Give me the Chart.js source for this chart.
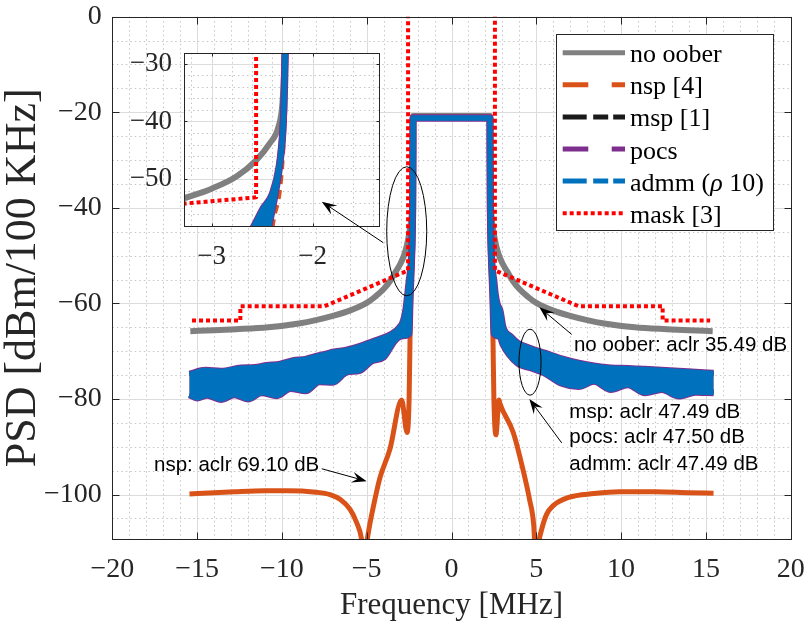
<!DOCTYPE html>
<html><head><meta charset="utf-8">
<script src="https://cdn.jsdelivr.net/npm/chart.js@4.4.1/dist/chart.umd.min.js"></script>
<style>
html,body{margin:0;padding:0;background:#fff;}
#wrap{position:relative;width:805px;height:629px;overflow:hidden;}
#wrap canvas{position:absolute;left:0;top:0;}
</style></head><body>
<div id="wrap"><canvas id="main" width="805" height="629"></canvas><canvas id="inset" width="805" height="629"></canvas></div>
<script>
// ---------- tick labels ----------
const xMajorTicks = [-20,-15,-10,-5,0,5,10,15,20];
const yMajorTicks = [-100,-80,-60,-40,-20,0];
const insetXTicks = [-3,-2];
const insetYTicks = [-50,-40,-30];

// ---------- series values [MHz, dBm/100kHz] ----------
const noOober = [[-15.4,-65.8],[-14,-65.6],[-12.7,-65.4],[-10.8,-65.0],[-9,-64.2],[-8,-63.5],[-7,-62.6],[-6,-61.5],[-5,-59.9],[-4.5,-58.6],[-4,-57.0],[-3.6,-55.2],[-3.28,-53.3],[-3.0,-51.6],[-2.755,-49.5],[-2.56,-46.7],[-2.43,-43.9],[-2.34,-41.0],[-2.3,-37.0],[-2.285,-32],[-2.275,-26],[-2.27,-20.8],
 [2.27,-20.8],[2.275,-26],[2.285,-32],[2.3,-37.0],[2.34,-41.0],[2.43,-43.9],[2.56,-46.7],[2.755,-49.5],[3.0,-51.6],[3.28,-53.3],[3.6,-55.2],[4,-57.0],[4.5,-58.6],[5,-59.9],[6,-61.5],[7,-62.6],[8,-63.5],[9,-64.2],[10.8,-65.0],[12.7,-65.4],[14,-65.6],[15.4,-65.8]];

const nsp = [[-15.45,-99.9],[-14,-99.6],[-12.8,-99.4],[-11,-99.2],[-9.7,-99.2],[-8,-99.5],[-7.16,-100.0],[-6.57,-101.0],[-5.98,-103.1],[-5.59,-105.9],[-5.3,-109.4],[-5.12,-116],[-5.0,-110.5],[-4.9,-107.9],[-4.6,-102.4],[-4.22,-96.5],[-3.63,-90.5],[-2.94,-80.2],[-2.62,-87.0],[-2.5,-80],[-2.44,-66],[-2.40,-58.1],[-2.33,-52.0],[-2.3,-46.0],[-2.285,-40],[-2.27,-21],
 [2.27,-21],[2.285,-40],[2.3,-46.0],[2.33,-52.0],[2.40,-58.1],[2.44,-66],[2.5,-80],[2.62,-87.5],[2.8,-80.2],[2.86,-81.0],[3.64,-87.0],[4.23,-95.0],[4.6,-101],[4.85,-106.5],[5.0,-116],[5.15,-110],[5.3,-107.5],[5.6,-104.2],[6.0,-102.3],[6.9,-100.6],[8.4,-99.8],[9.9,-99.4],[12,-99.4],[14,-99.6],[15.45,-99.7]];

const admmUpper = [[-15.45,-74.8],[-14.5,-74.0],[-13.6,-74.2],[-12.4,-73.5],[-11.6,-73.4],[-10.9,-73.0],[-10.1,-72.7],[-9.35,-72.0],[-8.6,-71.7],[-8.1,-71.2],[-7.3,-70.5],[-7.0,-70.2],[-6.2,-69.8],[-5.4,-69.0],[-4.4,-67.7],[-3.5,-66.4],[-3.05,-65.0],[-2.85,-63.8],[-2.7,-61.5],[-2.58,-58.0],[-2.49,-55.0],[-2.40,-52.5],[-2.33,-47.5],[-2.3,-42.5],[-2.285,-38.0],[-2.27,-28.0],[-2.265,-21.2],
 [2.265,-21.2],[2.27,-28.0],[2.285,-38.0],[2.3,-42.5],[2.33,-47.5],[2.40,-52.5],[2.49,-55.0],[2.58,-58.0],[2.7,-60.2],[2.86,-61.5],[3.04,-65.0],[3.5,-67.0],[3.9,-68.3],[4.7,-69.5],[5.5,-70.4],[6.5,-71.6],[7.5,-72.5],[8.4,-73.1],[9.4,-73.5],[10.4,-73.6],[11.4,-73.8],[12.4,-74.0],[13.4,-74.2],[14.4,-74.4],[15.45,-74.6]];

const admmLower = [[-15.45,-79.1],[-15.0,-79.8],[-14.4,-79.2],[-13.6,-80.1],[-12.8,-79.1],[-12.0,-80.0],[-11.2,-78.7],[-10.3,-79.3],[-9.5,-77.8],[-8.6,-78.3],[-7.8,-76.4],[-7.0,-76.5],[-6.2,-74.4],[-5.4,-74.0],[-4.7,-72.0],[-4.0,-71.2],[-3.4,-68.0],[-3.05,-66.9],[-2.7,-66.7],[-2.5,-66.3],[-2.45,-60.0],[-2.42,-57.0],[-2.37,-52.5],[-2.32,-46.7],[-2.29,-39.8],[-2.275,-28.3],[-2.27,-21.2],
 [2.27,-21.2],[2.275,-28.3],[2.29,-39.8],[2.32,-46.7],[2.37,-52.5],[2.42,-57.0],[2.45,-60.0],[2.5,-66.3],[2.86,-66.9],[3.04,-68.6],[3.9,-72.5],[4.7,-73.5],[5.5,-74.6],[6.5,-76.7],[7.5,-77.4],[8.4,-76.3],[9.4,-78.0],[10.4,-77.0],[11.4,-78.7],[12.4,-78.0],[13.4,-79.4],[14.4,-78.6],[15.45,-78.7]];

// msp / pocs coincide with admm to within the line width
const mspUpper = admmUpper, mspLower = admmLower;
const pocsUpper = admmUpper, pocsLower = admmLower;

const mask = [[-15.3,-63.6],[-12.45,-63.6],[-12.45,-60.6],[-7.5,-60.6],[-2.56,-53.1],[-2.56,5],[0,null],[2.56,5],[2.56,-53.1],[7.5,-60.6],[12.45,-60.6],[12.45,-63.6],[15.25,-63.6]];

// ---------- annotations (data units) ----------
const annEllipses = [{cx:-2.64, cy:-44.9, rx:1.18, ry:13.5},{cx:4.63, cy:-72.3, rx:0.65, ry:6.9}];
const annArrows = [{from:[-4.02,-47.3], to:[-7.65,-38.7]},{from:[7.09,-66.5], to:[5.18,-60.8]},{from:[6.5,-89.2], to:[4.59,-80.0]},{from:[-7.65,-94.6], to:[-5.0,-97.2]}];
const annTexts = [
  {t:'no oober: aclr 35.49 dB', x:7.22, y:-70.0},
  {t:'msp: aclr 47.49 dB', x:6.95, y:-84.0},
  {t:'pocs: aclr 47.50 dB', x:6.95, y:-89.3},
  {t:'admm: aclr 47.49 dB', x:6.95, y:-94.9},
  {t:'nsp: aclr 69.10 dB', x:-17.54, y:-95.1}
];

const SERIF = '"Liberation Serif","Times New Roman",serif';
const SANS = '"Liberation Sans",Arial,sans-serif';
const C = {gray:'#808080', nsp:'#d95319', msp:'#1a1a1a', pocs:'#7e2f8e', admm:'#0072bd', mask:'#ff0000', axis:'#262626'};

const legendEntries = [
  {label:'no oober', color:C.gray, width:5, dash:[]},
  {label:'nsp [4]', color:C.nsp, width:5, dash:[25.6,23.4]},
  {label:'msp [1]', color:C.msp, width:5, dash:[24,6.5,15,5,12,10]},
  {label:'pocs', color:C.pocs, width:5, dash:[25.6,23.4]},
  {label:'admm (ρ 10)', color:C.admm, width:5, dash:[24,6.5,15,5,12,10]},
  {label:'mask [3]', color:C.mask, width:4, dash:[4,3]}
];

function range(a,b,s){const o=[];for(let i=0;a+i*s<=b+1e-9;i++)o.push(Math.round((a+i*s)*1000)/1000);return o;}
const toXY = arr => arr.map(p => ({x:p[0], y:p[1]}));
const fmt = v => (v < 0 ? '\u2212' + String(-v) : String(v));

function ds(label, pts, color, width, order, extra){
  return Object.assign({label, data: toXY(pts), borderColor: color, backgroundColor: color, borderWidth: width,
    showLine:true, pointRadius:0, pointHoverRadius:0, clip:0, order, fill:false, tension:0,
    borderJoinStyle:'round', spanGaps:false}, extra||{});
}
const smooth = {cubicInterpolationMode:'monotone'};
function buildDatasets(isInset){
  return [
    ds('mask [3]', mask, C.mask, 4, 0, {borderDash:[4,3]}),
    ds('admm (ρ 10)', admmUpper, C.admm, 5, 1, smooth),
    ds('admm lower', admmLower, C.admm, 5, 1, Object.assign({fill:'-1'}, smooth)),
    ds('pocs', pocsUpper, C.pocs, 7, 2, smooth),
    ds('pocs lower', pocsLower, C.pocs, 7, 2, Object.assign({fill:'-1'}, smooth)),
    ds('msp [1]', mspUpper, C.msp, 5, 3, smooth),
    ds('msp lower', mspLower, C.msp, 5, 3, Object.assign({fill:'-1'}, smooth)),
    ds('nsp [4]', nsp, C.nsp, 5, 4, Object.assign(isInset ? {borderDash:[9,6]} : {}, smooth)),
    ds('no oober', noOober, C.gray, 6, 5, smooth)
  ];
}

function gridPlugin(g){
  const isMajor=(v,arr)=>arr.some(m=>Math.abs(m-v)<1e-6);
  return {
    id:'mlgrid',
    beforeDatasetsDraw(chart){
      const {ctx, chartArea:a} = chart; const xs=chart.scales.x, ys=chart.scales.y;
      ctx.save();
      if (g.bg){ ctx.fillStyle='#ffffff'; ctx.fillRect(a.left,a.top,a.right-a.left,a.bottom-a.top); }
      ctx.lineWidth=1;
      ctx.strokeStyle='#c6c6c6'; ctx.setLineDash([1.5,3]);
      ctx.beginPath();
      g.xMinor.forEach(v=>{ if(isMajor(v,g.xMajor))return; const p=Math.round(xs.getPixelForValue(v))+0.5; if(p<a.left||p>a.right)return; ctx.moveTo(p,a.top); ctx.lineTo(p,a.bottom); });
      g.yMinor.forEach(v=>{ if(isMajor(v,g.yMajor))return; const p=Math.round(ys.getPixelForValue(v))+0.5; if(p<a.top||p>a.bottom)return; ctx.moveTo(a.left,p); ctx.lineTo(a.right,p); });
      ctx.stroke();
      ctx.setLineDash([]); ctx.strokeStyle='#dcdcdc';
      ctx.beginPath();
      g.xMajor.forEach(v=>{ const p=Math.round(xs.getPixelForValue(v))+0.5; ctx.moveTo(p,a.top); ctx.lineTo(p,a.bottom); });
      g.yMajor.forEach(v=>{ const p=Math.round(ys.getPixelForValue(v))+0.5; ctx.moveTo(a.left,p); ctx.lineTo(a.right,p); });
      ctx.stroke();
      ctx.restore();
    },
    afterDatasetsDraw(chart){
      const {ctx, chartArea:a} = chart; const xs=chart.scales.x, ys=chart.scales.y;
      ctx.save();
      ctx.strokeStyle=C.axis; ctx.lineWidth=1; ctx.setLineDash([]);
      const L=Math.round(a.left)+0.5, R=Math.round(a.right)+0.5, T=Math.round(a.top)+0.5, B=Math.round(a.bottom)+0.5;
      ctx.strokeRect(L,T,R-L,B-T);
      ctx.beginPath();
      g.xMajor.forEach(v=>{ const p=Math.round(xs.getPixelForValue(v))+0.5; ctx.moveTo(p,B); ctx.lineTo(p,B-g.tick); ctx.moveTo(p,T); ctx.lineTo(p,T+g.tick); });
      g.yMajor.forEach(v=>{ const p=Math.round(ys.getPixelForValue(v))+0.5; ctx.moveTo(L,p); ctx.lineTo(L+g.tick,p); ctx.moveTo(R,p); ctx.lineTo(R-g.tick,p); });
      ctx.stroke();
      ctx.restore();
    }
  };
}

const legendPlugin = {
  id:'mllegend',
  afterDraw(chart){
    const ctx=chart.ctx;
    const box={l:556.5, t:34.5, r:773.5, b:230.5};
    ctx.save();
    ctx.fillStyle='#ffffff'; ctx.fillRect(box.l,box.t,box.r-box.l,box.b-box.t);
    ctx.strokeStyle=C.axis; ctx.lineWidth=1; ctx.strokeRect(box.l,box.t,box.r-box.l,box.b-box.t);
    legendEntries.forEach((e,i)=>{
      const y=52.7+i*32.1;
      ctx.save();
      ctx.strokeStyle=e.color; ctx.lineWidth=e.width; ctx.setLineDash(e.dash); ctx.lineCap='butt';
      ctx.beginPath(); ctx.moveTo(562.7,y); ctx.lineTo(625,y); ctx.stroke();
      ctx.restore();
      ctx.fillStyle='#000'; ctx.textBaseline='alphabetic'; ctx.textAlign='left';
      const parts=e.label.split('ρ');
      let x=630;
      parts.forEach((p,k)=>{
        ctx.font='26px '+SERIF; ctx.fillText(p,x,y+9.5); x+=ctx.measureText(p).width;
        if(k<parts.length-1){ ctx.font='italic 26px '+SERIF; ctx.fillText('ρ',x,y+9.5); x+=ctx.measureText('ρ').width; }
      });
    });
    ctx.restore();
  }
};

function drawArrow(ctx,x0,y0,x1,y1){
  const dx=x1-x0, dy=y1-y0, L=Math.hypot(dx,dy), ux=dx/L, uy=dy/L, nx=-uy, ny=ux;
  const HL=15, HW=11;
  const bx=x1-ux*HL, by=y1-uy*HL, qx=x1-ux*HL*0.62, qy=y1-uy*HL*0.62;
  ctx.beginPath(); ctx.moveTo(x0,y0); ctx.lineTo(qx,qy); ctx.stroke();
  ctx.beginPath(); ctx.moveTo(x1,y1); ctx.lineTo(bx+nx*HW/2,by+ny*HW/2); ctx.lineTo(qx,qy); ctx.lineTo(bx-nx*HW/2,by-ny*HW/2); ctx.closePath(); ctx.fill();
}

function annotationPlugin(getMain){
  return {
    id:'mlann',
    afterDraw(chart){
      const m=getMain(); if(!m) return;
      const xs=m.scales.x, ys=m.scales.y, ctx=chart.ctx;
      ctx.save();
      ctx.strokeStyle='#000'; ctx.fillStyle='#000'; ctx.lineWidth=1;
      annEllipses.forEach(e=>{
        const cx=xs.getPixelForValue(e.cx), cy=ys.getPixelForValue(e.cy);
        const rx=Math.abs(xs.getPixelForValue(e.cx+e.rx)-cx), ry=Math.abs(ys.getPixelForValue(e.cy+e.ry)-cy);
        ctx.beginPath(); ctx.ellipse(cx,cy,rx,ry,0,0,Math.PI*2); ctx.stroke();
      });
      annArrows.forEach(a=>{
        drawArrow(ctx, xs.getPixelForValue(a.from[0]), ys.getPixelForValue(a.from[1]), xs.getPixelForValue(a.to[0]), ys.getPixelForValue(a.to[1]));
      });
      ctx.font='20.5px '+SANS; ctx.textAlign='left'; ctx.textBaseline='alphabetic';
      annTexts.forEach(t=>{ ctx.fillText(t.t, xs.getPixelForValue(t.x), ys.getPixelForValue(t.y)); });
      ctx.restore();
    }
  };
}

const zeroPad = s => { s.paddingLeft=0; s.paddingRight=0; s.paddingTop=0; s.paddingBottom=0; };
const tickFont = {family:SERIF, size:28};
const mainChart = new Chart(document.getElementById('main'), {
  type:'scatter',
  data:{datasets:buildDatasets(false)},
  options:{
    responsive:false, animation:false, events:[],
    layout:{padding:{left:0,right:14.3,top:16.7,bottom:0}},
    plugins:{legend:{display:false}, tooltip:{enabled:false}},
    scales:{
      x:{type:'linear', min:-20, max:20,
        afterBuildTicks:s=>{s.ticks=xMajorTicks.map(v=>({value:v}));},
        afterFit:s=>{s.height=90; zeroPad(s);},
        grid:{display:false, drawTicks:false}, border:{display:false},
        ticks:{font:tickFont, color:C.axis, padding:14, maxRotation:0, minRotation:0, autoSkip:false, callback:fmt},
        title:{display:true, text:'Frequency [MHz]', font:{family:SERIF,size:31}, color:C.axis, padding:{top:0,bottom:5}}},
      y:{type:'linear', min:-109.3, max:0,
        afterBuildTicks:s=>{s.ticks=yMajorTicks.map(v=>({value:v}));},
        afterFit:s=>{s.width=112.3; zeroPad(s);},
        grid:{display:false, drawTicks:false}, border:{display:false},
        ticks:{font:tickFont, color:C.axis, padding:10.6, autoSkip:false, callback:fmt},
        title:{display:true, text:'PSD [dBm/100 KHz]', font:{family:SERIF,size:44,lineHeight:1}, color:C.axis, padding:{top:1,bottom:0}}}
    }
  },
  plugins:[gridPlugin({xMajor:xMajorTicks, yMajor:yMajorTicks, xMinor:range(-20,20,1), yMinor:range(-105,0,5), tick:7, bg:false}), legendPlugin]
});

const insetChart = new Chart(document.getElementById('inset'), {
  type:'scatter',
  data:{datasets:buildDatasets(true)},
  options:{
    responsive:false, animation:false, events:[],
    layout:{padding:{left:100,right:425.7,top:53,bottom:349}},
    plugins:{legend:{display:false}, tooltip:{enabled:false}},
    scales:{
      x:{type:'linear', min:-3.274, max:-1.34,
        afterBuildTicks:s=>{s.ticks=insetXTicks.map(v=>({value:v}));},
        afterFit:s=>{s.height=54; zeroPad(s);},
        grid:{display:false, drawTicks:false}, border:{display:false},
        ticks:{font:{family:SERIF,size:27}, color:C.axis, padding:14.5, maxRotation:0, minRotation:0, autoSkip:false, callback:fmt}},
      y:{type:'linear', min:-58.05, max:-28.17,
        afterBuildTicks:s=>{s.ticks=insetYTicks.map(v=>({value:v}));},
        afterFit:s=>{s.width=84; zeroPad(s);},
        grid:{display:false, drawTicks:false}, border:{display:false},
        ticks:{font:{family:SERIF,size:27}, color:C.axis, padding:12, autoSkip:false, callback:fmt}}
    }
  },
  plugins:[gridPlugin({xMajor:insetXTicks, yMajor:insetYTicks, xMinor:range(-3.2,-1.4,0.2), yMinor:range(-58,-28,2), tick:3, bg:true}), annotationPlugin(()=>mainChart)]
});
</script>
</body></html>
